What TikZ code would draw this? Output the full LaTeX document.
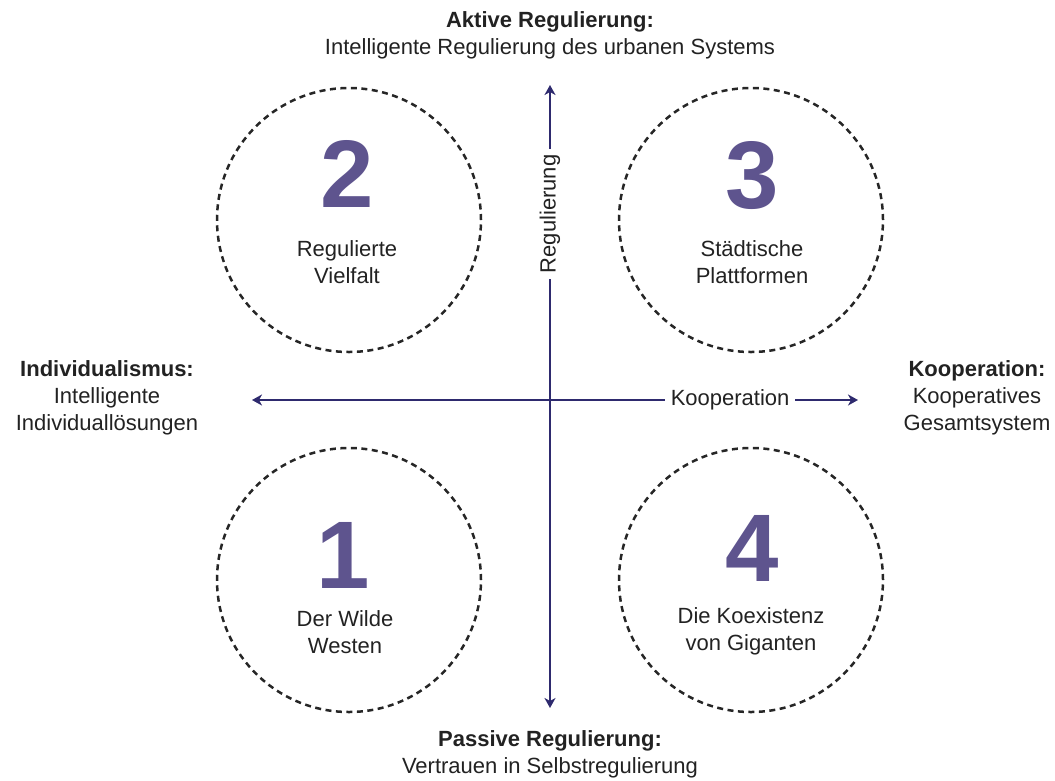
\documentclass[tikz,border=0pt]{standalone}
\usepackage{fontspec}
\setmainfont{Liberation Sans}
\usepackage{tikz}
\usetikzlibrary{arrows.meta,positioning}
\definecolor{numpurple}{HTML}{5E548E}
\definecolor{axisblue}{HTML}{2E2A6E}
\definecolor{txtgrey}{HTML}{222222}

\begin{document}
\begin{tikzpicture}[x=1pt, y=-1pt, >={Stealth[length=10pt,width=11pt,inset=3pt]},
	scen/.style={circle, draw=black!85, line width=2.5pt, dash pattern=on 6pt off 4.5pt, minimum size=264pt, inner sep=0pt},
	num/.style={font=\fontsize{96}{96}\selectfont\bfseries, text=numpurple, inner sep=0pt},
	txt/.style={align=center, font=\fontsize{22}{27}\selectfont, text=txtgrey, inner sep=0pt},
	axis/.style={draw=axisblue, line width=2pt},
	cut/.style={fill=white, inner sep=6pt, font=\fontsize{22}{24}\selectfont, text=txtgrey}]
	\useasboundingbox (0,0) rectangle (1055,780);

	% the four scenarios
	\node [scen] (two) at (349,220) {};
	\node [scen] (three) at (751,220) {};
	\node [scen] (one) at (349,580) {};
	\node [scen] (four) at (751,580) {};

	\node [num] (n2) at (347,174) {2};
	\node [num] (n3) at (752,176) {3};
	\node [num] (n1) at (343,555) {1};
	\node [num] (n4) at (752,548) {4};

	\node [txt] (t2) at (347,262) {Regulierte\\Vielfalt};
	\node [txt] (t3) at (752,262) {Städtische\\Plattformen};
	\node [txt] (t1) at (345,632) {Der Wilde\\Westen};
	\node [txt] (t4) at (751,631) {Die Koexistenz\\von Giganten};

	% axes
	\coordinate (west) at (252,400);
	\coordinate (east) at (858,400);
	\coordinate (north) at (550,85);
	\coordinate (south) at (550,708);

	\draw [axis,<->] (west) -- (east) node [cut, pos=0.789] (coop) {Kooperation};
	\draw [axis,<->] (south) -- (north) node [cut, sloped, pos=0.793] (reg) {Regulierung};

	% pole labels
	\node [txt] (top) at (550,35) {\textbf{Aktive Regulierung:}\\Intelligente Regulierung des urbanen Systems};
	\node [txt] (bottom) at (550,754) {\textbf{Passive Regulierung:}\\Vertrauen in Selbstregulierung};
	\node [txt] (left) at (107,398) {\textbf{Individualismus:}\\Intelligente\\Individuallösungen};
	\node [txt] (right) at (977,398) {\textbf{Kooperation:}\\Kooperatives\\Gesamtsystem};
\end{tikzpicture}
\end{document}
